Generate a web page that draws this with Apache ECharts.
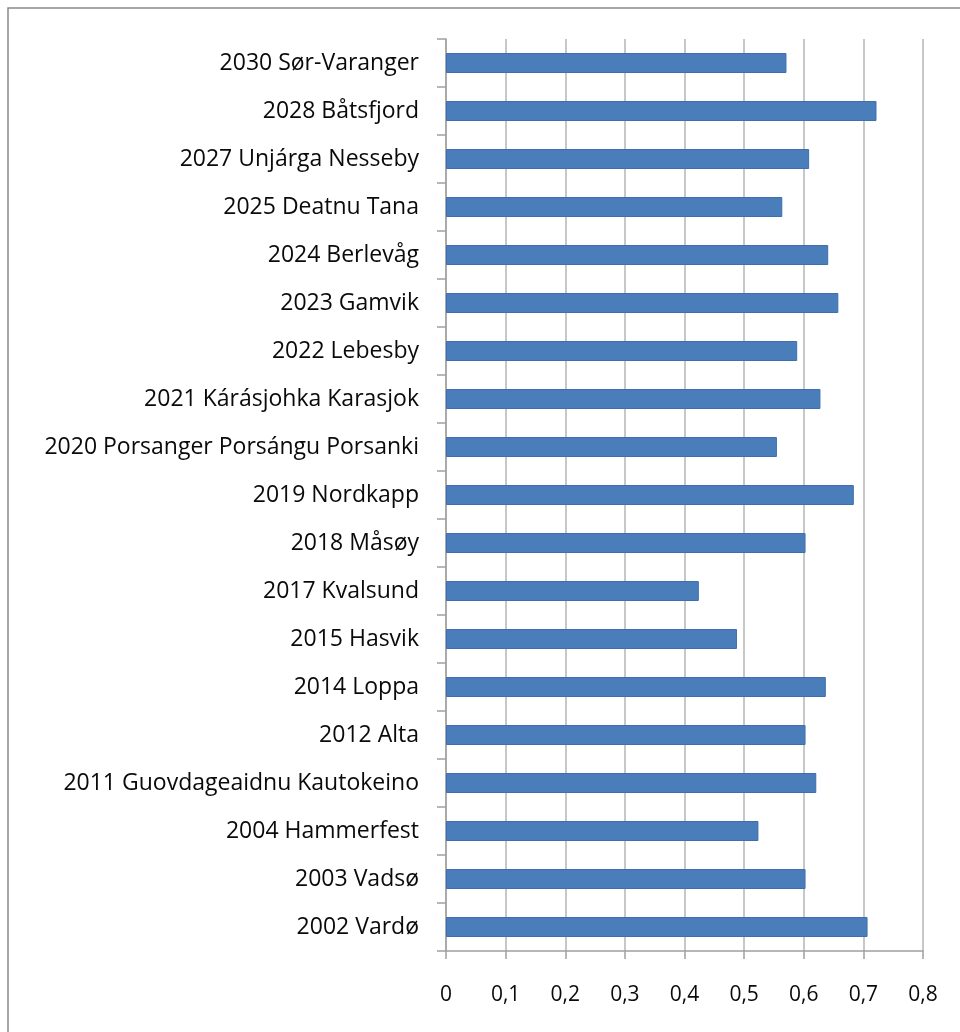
<!DOCTYPE html>
<html>
<head>
<meta charset="utf-8">
<script src="https://cdn.jsdelivr.net/npm/echarts@6/dist/echarts.min.js"></script>
<style>
html,body{margin:0;padding:0;background:#fff;}
#chart{width:960px;height:1032px;}
</style>
</head>
<body>
<div id="chart"></div>
<script>
// kommuner, ovenfra og ned
var kommuner = [
    "2030 Sør-Varanger", "2028 Båtsfjord", "2027 Unjárga Nesseby", "2025 Deatnu Tana",
    "2024 Berlevåg", "2023 Gamvik", "2022 Lebesby", "2021 Kárásjohka Karasjok",
    "2020 Porsanger Porsángu Porsanki", "2019 Nordkapp", "2018 Måsøy", "2017 Kvalsund",
    "2015 Hasvik", "2014 Loppa", "2012 Alta", "2011 Guovdageaidnu Kautokeino",
    "2004 Hammerfest", "2003 Vadsø", "2002 Vardø"
]
var verdier = [
    0.571, 0.722, 0.609, 0.564,
    0.641, 0.658, 0.589, 0.628,
    0.555, 0.684, 0.603, 0.424,
    0.488, 0.637, 0.603, 0.621,
    0.524, 0.603, 0.707
]
var xTicks = { min: 0, max: 0.8, step: 0.1 }

var chart = echarts.init(document.getElementById('chart'))
var font = '"Open Sans", Lato, sans-serif'
chart.setOption({
    animation: false,
    graphic: [{
        type: 'rect',
        shape: { x: 8, y: 8, width: 1000, height: 1100 },
        style: { fill: 'none', stroke: '#8a8a8a', lineWidth: 1.5 }
    }],
    grid: { left: 446, right: 37, top: 39, bottom: 81 },
    xAxis: {
        type: 'value',
        min: xTicks.min,
        max: xTicks.max,
        interval: xTicks.step,
        axisLine: { show: true, lineStyle: { color: '#a0a0a0', width: 1.5 } },
        axisTick: { show: true, length: 8, lineStyle: { color: '#a0a0a0', width: 1.5 } },
        splitLine: { show: true, lineStyle: { color: '#b4b4b4', width: 1.5 } },
        axisLabel: {
            margin: 34,
            color: '#0a0a0a',
            fontSize: 21,
            fontFamily: font,
            formatter: function (v) {
                return v === 0 ? '0' : v.toFixed(1).replace('.', ',')
            }
        }
    },
    yAxis: {
        type: 'category',
        inverse: true,
        data: kommuner,
        axisLine: { show: true, lineStyle: { color: '#a0a0a0', width: 1.5 } },
        axisTick: { show: true, length: 9, lineStyle: { color: '#a0a0a0', width: 1.5 } },
        axisLabel: {
            margin: 27,
            color: '#0a0a0a',
            fontSize: 23,
            fontFamily: font
        }
    },
    series: [{
        type: 'bar',
        data: verdier,
        barWidth: 20,
        itemStyle: { color: '#4a7ebb', borderColor: '#3d6fae', borderWidth: 1 }
    }]
})
</script>
</body>
</html>
